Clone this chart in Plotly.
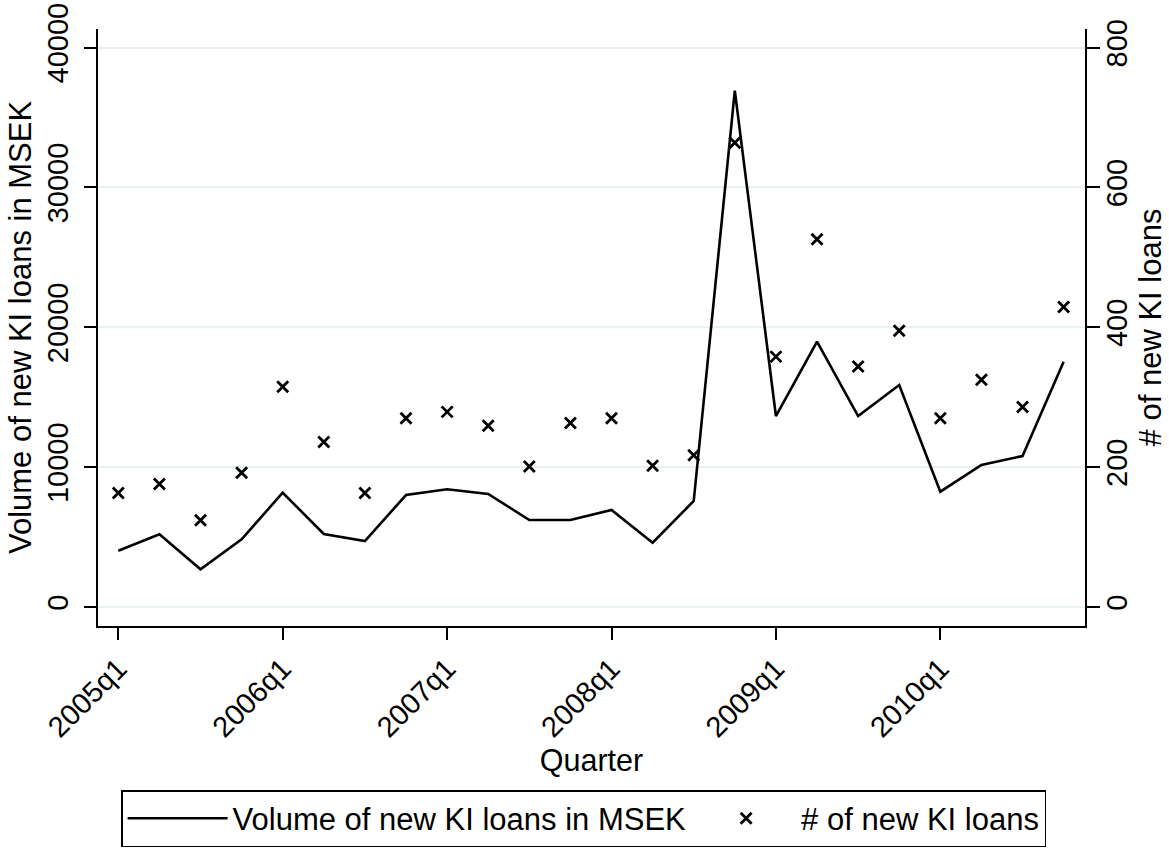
import plotly.graph_objects as go

quarters = [f"{y}q{q}" for y in range(2005, 2011) for q in range(1, 5)]
volume_msek = [4025, 5197, 2695, 4840, 8171, 5219, 4718, 8007,
               8414, 8078, 6220, 6220, 6935, 4597, 7578, 36911,
               13655, 18967, 13655, 15871, 8245, 10152, 10795, 17537]
n_loans = [163, 176, 124, 192, 315, 236, 163, 270,
           279, 259, 201, 263, 270, 202, 217, 664,
           358, 526, 344, 395, 270, 325, 286, 429]
x_ticks = ["2005q1", "2006q1", "2007q1", "2008q1", "2009q1", "2010q1"]
left_ticks = [0, 10000, 20000, 30000, 40000]
right_ticks = [0, 200, 400, 600, 800]

FONT = "Liberation Sans, Arial, sans-serif"
GRID = "#e8f0f2"

fig = go.Figure()
fig.add_trace(go.Scatter(
    x=quarters, y=volume_msek, mode="lines",
    name="Volume of new KI loans in MSEK",
    line=dict(color="black", width=2.6), yaxis="y"))
fig.add_trace(go.Scatter(
    x=quarters, y=n_loans, mode="markers", name="# of new KI loans",
    marker=dict(symbol="x-thin-open", size=11, color="black",
                line=dict(color="black", width=2.8)), yaxis="y2"))

fig.update_layout(
    width=1169, height=849,
    margin=dict(l=98, r=84, t=29, b=223, autoexpand=False),
    paper_bgcolor="white", plot_bgcolor="white",
    font=dict(family=FONT, color="black", size=29),
    showlegend=True,
    legend=dict(orientation="h", x=0.492, xanchor="center", y=-0.275, yanchor="top",
                bordercolor="black", borderwidth=1.5, font=dict(size=31),
                itemwidth=100, traceorder="normal"),
    xaxis=dict(
        type="category", categoryorder="array", categoryarray=quarters,
        range=[-0.494, 23.52], tickmode="array", tickvals=x_ticks, ticktext=x_ticks,
        tickangle=-45, ticks="outside", ticklen=12, tickwidth=1.5, tickcolor="black",
        showline=True, linecolor="black", linewidth=2, showgrid=False, zeroline=False,
        title=dict(text="Quarter", font=dict(size=30.5), standoff=0),
        tickfont=dict(size=29)),
    yaxis=dict(
        range=[-1358, 41323], tickmode="array", tickvals=left_ticks,
        ticktext=[str(v) for v in left_ticks], tickangle=-90,
        ticks="outside", ticklen=12, tickwidth=1.5, tickcolor="black",
        ticklabelstandoff=4,
        showline=True, linecolor="black", linewidth=2,
        showgrid=True, gridcolor=GRID, gridwidth=2, zeroline=False,
        title=dict(text="Volume of new KI loans in MSEK", font=dict(size=31), standoff=2),
        tickfont=dict(size=29)),
    yaxis2=dict(
        range=[-27.2, 826.5], overlaying="y", side="right", tickmode="array",
        tickvals=right_ticks, ticktext=[str(v) for v in right_ticks], tickangle=-90,
        ticks="outside", ticklen=13, tickwidth=1.5, tickcolor="black",
        ticklabelstandoff=-8,
        showline=True, linecolor="black", linewidth=2, showgrid=False, zeroline=False,
        title=dict(text="# of new KI loans", font=dict(size=31), standoff=2),
        tickfont=dict(size=29)),
)

fig.write_html("out.html", config={"displayModeBar": False},
               post_script="document.body.style.margin='0px';")
